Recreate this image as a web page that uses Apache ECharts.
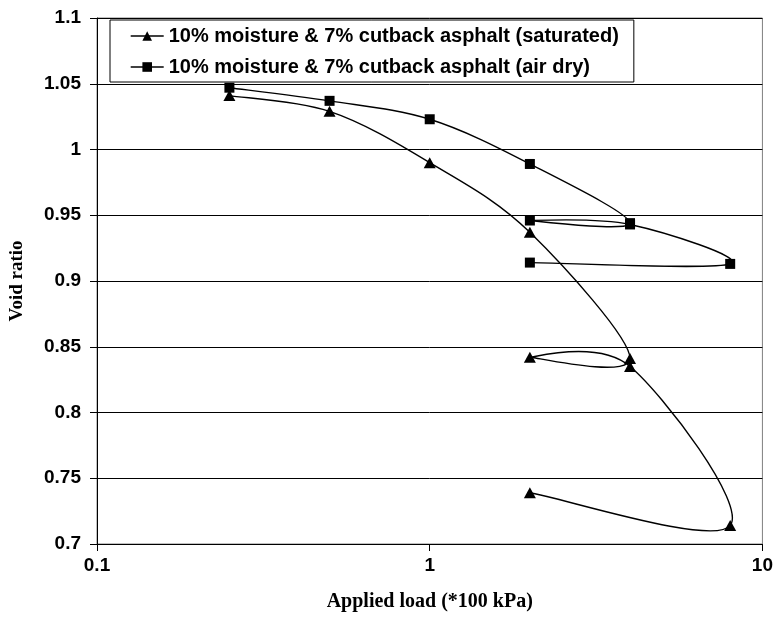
<!DOCTYPE html>
<html>
<head>
<meta charset="utf-8">
<script src="https://cdn.jsdelivr.net/npm/echarts@6/dist/echarts.min.js"></script>
<style>html,body{margin:0;padding:0;background:#fff;}#c{width:776px;height:618px;}</style>
</head>
<body>
<div id="c"></div>
<script>
// ---- data ----
const satName = '10% moisture & 7% cutback asphalt (saturated)';
const dryName = '10% moisture & 7% cutback asphalt (air dry)';
const satLoad = [0.25, 0.5, 1, 2, 4, 2, 4, 8, 2];
const satVoid = [1.041, 1.029, 0.990, 0.937, 0.841, 0.842, 0.835, 0.714, 0.739];
const dryLoad = [0.25, 0.5, 1, 2, 4, 2, 4, 8, 2];
const dryVoid = [1.047, 1.037, 1.023, 0.989, 0.944, 0.946, 0.943, 0.913, 0.914];
const yTicks = {min: 0.7, max: 1.1, interval: 0.05};
const xRange = {min: 0.1, max: 10};
const xTitle = 'Applied load (*100 kPa)';
const yTitle = 'Void ratio';

const pairs = (xs, ys) => xs.map((x, i) => [x, ys[i]]);

// Smoothed (Excel-like Catmull-Rom) curve through the data points, built in pixel space via the axis scales
function curveSeries(xs, ys) {
  return {
    type: 'custom',
    name: '_curve',
    data: pairs(xs, ys),
    encode: {x: 0, y: 1},
    silent: true,
    z: 2,
    renderItem: function (params, api) {
      if (params.dataIndex !== 0) return null;
      const p = xs.map((x, i) => api.coord([x, ys[i]]));
      const n = p.length;
      let d = 'M' + p[0][0] + ' ' + p[0][1];
      for (let i = 0; i < n - 1; i++) {
        const p0 = p[i - 1] || p[i];
        const p1 = p[i];
        const p2 = p[i + 1];
        const p3 = p[i + 2] || p[i + 1];
        const c1x = p1[0] + (p2[0] - p0[0]) / 6, c1y = p1[1] + (p2[1] - p0[1]) / 6;
        const c2x = p2[0] - (p3[0] - p1[0]) / 6, c2y = p2[1] - (p3[1] - p1[1]) / 6;
        d += ' C' + c1x + ' ' + c1y + ' ' + c2x + ' ' + c2y + ' ' + p2[0] + ' ' + p2[1];
      }
      return {
        type: 'path',
        shape: {pathData: d},
        style: {fill: 'none', stroke: '#000', lineWidth: 1.4}
      };
    }
  };
}

function markerSeries(name, xs, ys, symbol, size) {
  return {
    type: 'line',
    name: name,
    data: pairs(xs, ys),
    symbol: symbol,
    symbolSize: size,
    showAllSymbol: true,
    itemStyle: {color: '#000'},
    lineStyle: {opacity: 0, width: 0.01},
    z: 3,
    animation: false
  };
}

const sans = 'Liberation Sans, Arial, sans-serif';
const serif = 'Liberation Serif, Times New Roman, serif';

const chart = echarts.init(document.getElementById('c'), null, {renderer: 'canvas'});
chart.setOption({
  animation: false,
  backgroundColor: '#fff',
  grid: {left: 93, right: 13, top: 18, bottom: 74, show: true, borderColor: '#808080', borderWidth: 1, backgroundColor: 'transparent'},
  legend: {
    orient: 'vertical',
    left: 110, top: 20,
    padding: [6, 15, 5, 20],
    itemGap: 11,
    itemWidth: 33, itemHeight: 12,
    backgroundColor: '#fff',
    borderColor: '#000', borderWidth: 1,
    data: [satName, dryName],
    lineStyle: {color: '#000', width: 1.4, opacity: 1},
    textStyle: {fontFamily: sans, fontWeight: 'bold', fontSize: 20, color: '#000'},
    selectedMode: false
  },
  xAxis: {
    type: 'log', logBase: 10, min: xRange.min, max: xRange.max,
    name: xTitle, nameLocation: 'middle', nameGap: 48,
    nameTextStyle: {fontFamily: serif, fontWeight: 'bold', fontSize: 20, color: '#000'},
    axisLine: {show: true, onZero: false, lineStyle: {color: '#000', width: 1}},
    axisTick: {show: true, inside: false, length: 7, lineStyle: {color: '#000'}},
    minorTick: {show: false},
    splitLine: {show: false},
    axisLabel: {margin: 12, fontFamily: sans, fontWeight: 'bold', fontSize: 19, color: '#000',
      formatter: v => String(+v.toPrecision(3))}
  },
  yAxis: {
    type: 'value', min: yTicks.min, max: yTicks.max, interval: yTicks.interval,
    name: yTitle, nameLocation: 'middle', nameGap: 70, nameRotate: 90,
    nameTextStyle: {fontFamily: serif, fontWeight: 'bold', fontSize: 19, color: '#000'},
    axisLine: {show: true, lineStyle: {color: '#000', width: 1}},
    axisTick: {show: true, inside: false, length: 7, lineStyle: {color: '#000'}},
    splitLine: {show: true, lineStyle: {color: '#000', width: 1}},
    axisLabel: {margin: 16, fontFamily: sans, fontWeight: 'bold', fontSize: 19, color: '#000',
      formatter: v => String(+v.toFixed(2))}
  },
  series: [
    curveSeries(satLoad, satVoid),
    curveSeries(dryLoad, dryVoid),
    markerSeries(satName, satLoad, satVoid, 'triangle', [12, 11]),
    markerSeries(dryName, dryLoad, dryVoid, 'rect', [10, 10])
  ]
});
</script>
</body>
</html>
